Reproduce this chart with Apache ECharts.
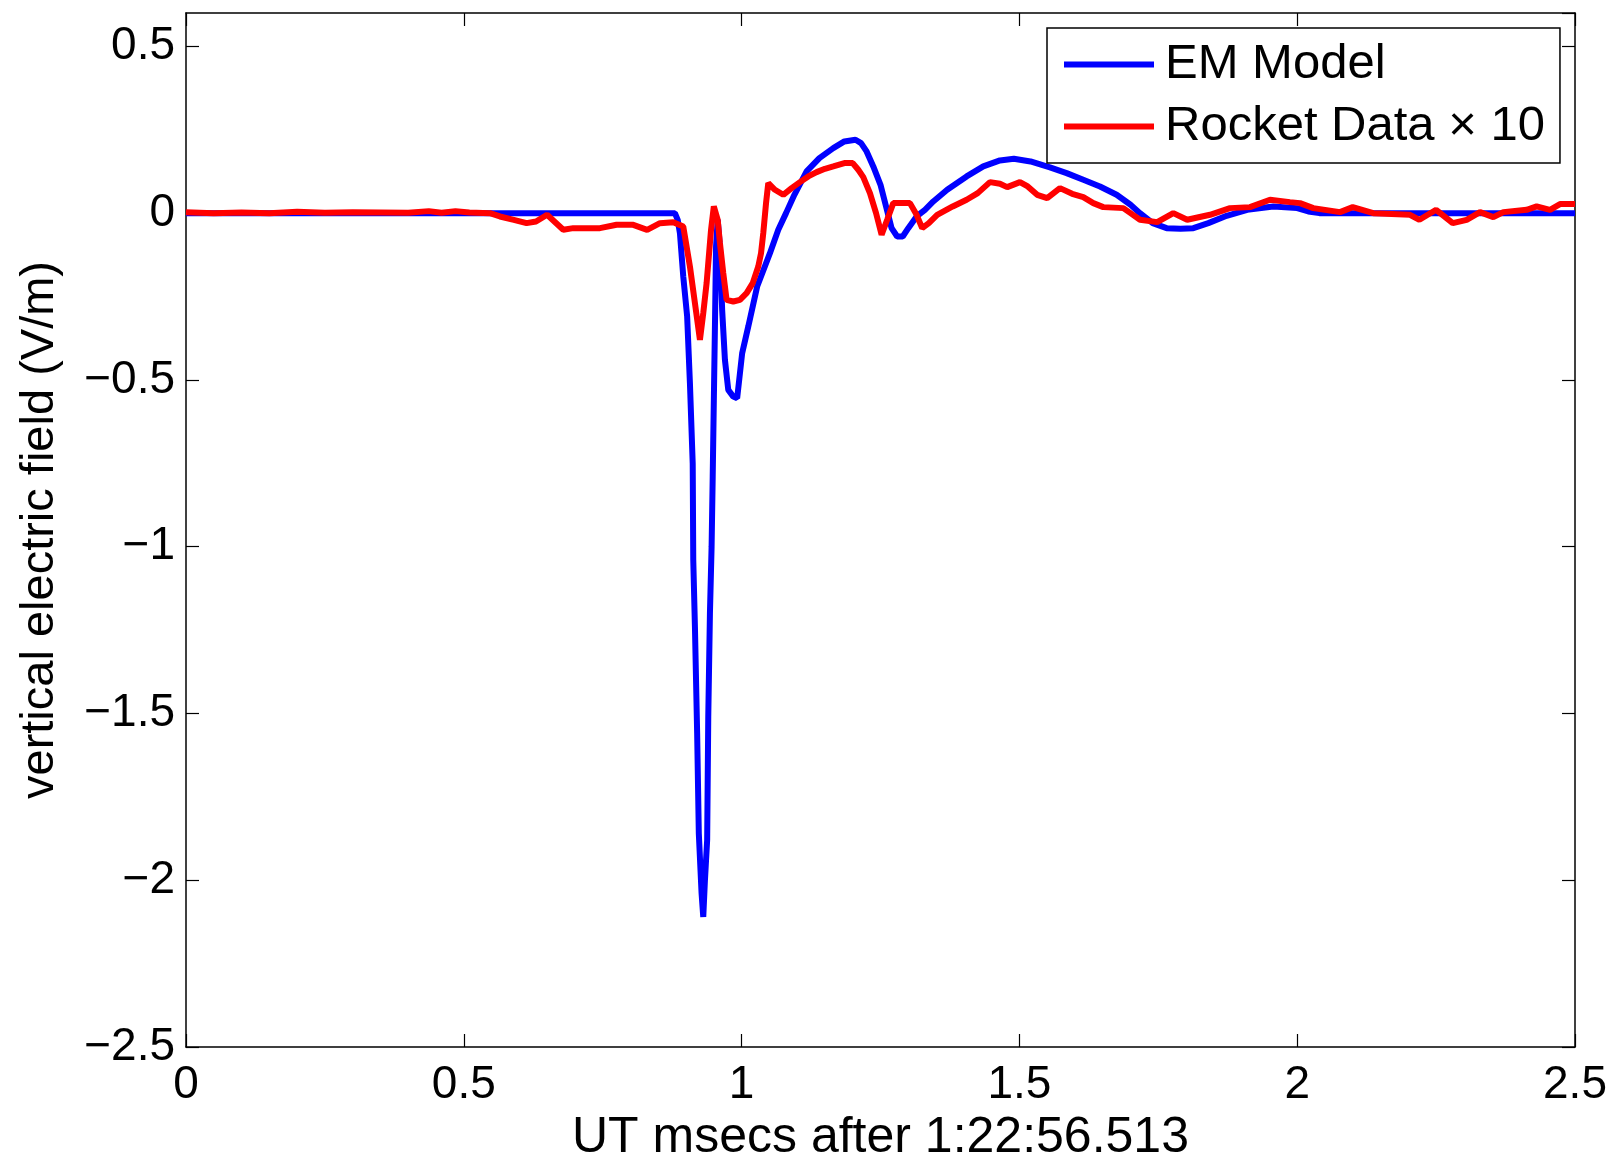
<!DOCTYPE html>
<html>
<head>
<meta charset="utf-8">
<script src="https://cdn.jsdelivr.net/npm/echarts@6/dist/echarts.min.js"></script>
<style>
html,body{margin:0;padding:0;background:#fff;}
#chart{width:1615px;height:1156px;}
</style>
</head>
<body>
<div id="chart"></div>
<script>
const xTicks = [0, 0.5, 1, 1.5, 2, 2.5];
const yTicks = [0.5, 0, -0.5, -1, -1.5, -2, -2.5];
const yTop = 0.6;

const emT = [0, 0.87, 0.88, 0.885, 0.889, 0.895, 0.902, 0.907, 0.912, 0.913, 0.916, 0.920, 0.923, 0.928, 0.931, 0.934, 0.938, 0.940, 0.943, 0.946, 0.948, 0.952, 0.954, 0.957, 0.961, 0.965, 0.970, 0.976, 0.985, 0.992, 1.001, 1.012, 1.028, 1.051, 1.066, 1.08, 1.095, 1.117, 1.14, 1.165, 1.185, 1.205, 1.215, 1.225, 1.237, 1.25, 1.26, 1.27, 1.28, 1.29, 1.30, 1.315, 1.33, 1.345, 1.37, 1.405, 1.435, 1.465, 1.49, 1.52, 1.555, 1.585, 1.615, 1.645, 1.675, 1.70, 1.717, 1.74, 1.765, 1.79, 1.813, 1.84, 1.873, 1.91, 1.957, 2.0, 2.02, 2.04, 2.5];
const emV = [0, 0, 0, -0.02, -0.06, -0.19, -0.31, -0.51, -0.75, -1.04, -1.24, -1.56, -1.86, -2.04, -2.11, -2.0, -1.88, -1.51, -1.2, -1.0, -0.79, -0.34, -0.1, -0.02, -0.1, -0.29, -0.44, -0.53, -0.55, -0.555, -0.42, -0.34, -0.22, -0.12, -0.05, 0.0, 0.055, 0.125, 0.165, 0.195, 0.215, 0.22, 0.21, 0.185, 0.14, 0.085, 0.02, -0.045, -0.07, -0.07, -0.045, -0.01, 0.01, 0.035, 0.07, 0.11, 0.14, 0.158, 0.163, 0.155, 0.137, 0.12, 0.10, 0.08, 0.055, 0.025, 0.0, -0.03, -0.045, -0.047, -0.045, -0.03, -0.008, 0.01, 0.02, 0.015, 0.005, 0, 0];

const rkT = [0, 0.05, 0.1, 0.15, 0.2, 0.25, 0.3, 0.35, 0.4, 0.437, 0.46, 0.485, 0.51, 0.547, 0.565, 0.59, 0.613, 0.63, 0.65, 0.663, 0.679, 0.697, 0.72, 0.745, 0.775, 0.805, 0.83, 0.853, 0.877, 0.895, 0.907, 0.916, 0.925, 0.931, 0.937, 0.945, 0.950, 0.957, 0.961, 0.967, 0.973, 0.985, 0.997, 1.009, 1.02, 1.03, 1.035, 1.039, 1.044, 1.048, 1.06, 1.075, 1.09, 1.105, 1.12, 1.135, 1.15, 1.165, 1.185, 1.20, 1.21, 1.219, 1.231, 1.242, 1.252, 1.262, 1.273, 1.303, 1.315, 1.325, 1.337, 1.352, 1.38, 1.405, 1.425, 1.447, 1.465, 1.478, 1.501, 1.515, 1.532, 1.55, 1.573, 1.595, 1.615, 1.633, 1.651, 1.687, 1.70, 1.717, 1.748, 1.777, 1.802, 1.843, 1.879, 1.915, 1.951, 1.987, 2.005, 2.029, 2.077, 2.1, 2.137, 2.203, 2.22, 2.25, 2.28, 2.305, 2.329, 2.353, 2.371, 2.413, 2.431, 2.455, 2.473, 2.5];
const rkV = [0.003, 0.0, 0.002, 0.0, 0.004, 0.001, 0.003, 0.002, 0.001, 0.006, 0.001, 0.006, 0.002, 0.0, -0.01, -0.02, -0.03, -0.025, -0.005, -0.025, -0.05, -0.045, -0.045, -0.045, -0.035, -0.035, -0.05, -0.03, -0.027, -0.04, -0.16, -0.27, -0.38, -0.3, -0.21, -0.05, 0.02, -0.02, -0.09, -0.18, -0.26, -0.265, -0.26, -0.24, -0.21, -0.16, -0.12, -0.06, 0.03, 0.09, 0.07, 0.055, 0.075, 0.093, 0.11, 0.123, 0.133, 0.14, 0.15, 0.15, 0.13, 0.108, 0.06, 0.0, -0.065, -0.02, 0.03, 0.03, -0.005, -0.045, -0.03, -0.005, 0.02, 0.04, 0.06, 0.093, 0.088, 0.078, 0.093, 0.08, 0.055, 0.045, 0.075, 0.058, 0.048, 0.03, 0.018, 0.015, 0.0, -0.02, -0.027, 0.0, -0.02, -0.005, 0.015, 0.018, 0.04, 0.033, 0.03, 0.015, 0.003, 0.018, 0.0, -0.005, -0.02, 0.01, -0.03, -0.02, 0.003, -0.012, 0.003, 0.01, 0.02, 0.01, 0.027, 0.027];

const seriesNames = ['EM Model', 'Rocket Data \u00d7 10'];
const xTitle = 'UT msecs after 1:22:56.513';
const yTitle = 'vertical electric field (V/m)';

const FONT = '"Liberation Sans", Arial, Helvetica, sans-serif';
const fmt = v => (v < 0 ? '\u2212' + Math.abs(v) : String(v));
const yFmt = v => (yTicks.some(t => Math.abs(t - v) < 1e-9) ? fmt(v) : '');

const emData = emT.map((t, i) => [t, emV[i]]);
const rkData = rkT.map((t, i) => [t, rkV[i]]);

const axisLine = { show: true, onZero: false, lineStyle: { color: '#000', width: 1.5 } };
const tickIn = { show: true, inside: true, length: 13, lineStyle: { color: '#000', width: 1.2 } };

const chart = echarts.init(document.getElementById('chart'), null, { renderer: 'canvas' });
chart.setOption({
  backgroundColor: '#fff',
  animation: false,
  grid: { left: 186, right: 40, top: 13, bottom: 109, containLabel: false, outerBoundsMode: 'none' },
  legend: {
    orient: 'vertical',
    left: 1047,
    top: 28,
    padding: [12, 15, 12, 17],
    itemGap: 13,
    itemWidth: 90,
    itemHeight: 6,
    icon: 'rect',
    backgroundColor: '#fff',
    borderColor: '#000',
    borderWidth: 1.5,
    borderRadius: 0,
    textStyle: { fontFamily: FONT, fontSize: 49, color: '#000', padding: [0, 0, 0, 6] },
    data: seriesNames
  },
  xAxis: [
    {
      type: 'value', min: xTicks[0], max: xTicks[xTicks.length - 1], interval: 0.5,
      position: 'bottom',
      axisLine, axisTick: tickIn, splitLine: { show: false },
      axisLabel: { fontFamily: FONT, fontSize: 46, color: '#000', margin: 15, formatter: fmt, showMinLabel: true, showMaxLabel: true },
      name: xTitle, nameLocation: 'middle', nameGap: 57,
      nameTextStyle: { fontFamily: FONT, fontSize: 50, color: '#000' }
    },
    {
      type: 'value', min: xTicks[0], max: xTicks[xTicks.length - 1], interval: 0.5,
      position: 'top',
      axisLine, axisTick: tickIn, splitLine: { show: false }, axisLabel: { show: false }
    }
  ],
  yAxis: [
    {
      type: 'value', min: yTicks[yTicks.length - 1], max: yTop, interval: 0.5,
      position: 'left',
      axisLine, axisTick: tickIn, splitLine: { show: false },
      axisLabel: { fontFamily: FONT, fontSize: 46, color: '#000', margin: 11, formatter: yFmt, showMaxLabel: false },
      name: yTitle, nameLocation: 'middle', nameGap: 122, nameRotate: 90,
      nameTextStyle: { fontFamily: FONT, fontSize: 47, color: '#000' }
    },
    {
      type: 'value', min: yTicks[yTicks.length - 1], max: yTop, interval: 0.5,
      position: 'right',
      axisLine, axisTick: tickIn, splitLine: { show: false }, axisLabel: { show: false }
    }
  ],
  series: [
    {
      name: seriesNames[0], type: 'line', data: emData, showSymbol: false, symbol: 'none',
      lineStyle: { color: '#0000ff', width: 6 }, itemStyle: { color: '#0000ff' }, z: 2
    },
    {
      name: seriesNames[1], type: 'line', data: rkData, showSymbol: false, symbol: 'none',
      lineStyle: { color: '#ff0000', width: 6 }, itemStyle: { color: '#ff0000' }, z: 3
    }
  ]
});
</script>
</body>
</html>
